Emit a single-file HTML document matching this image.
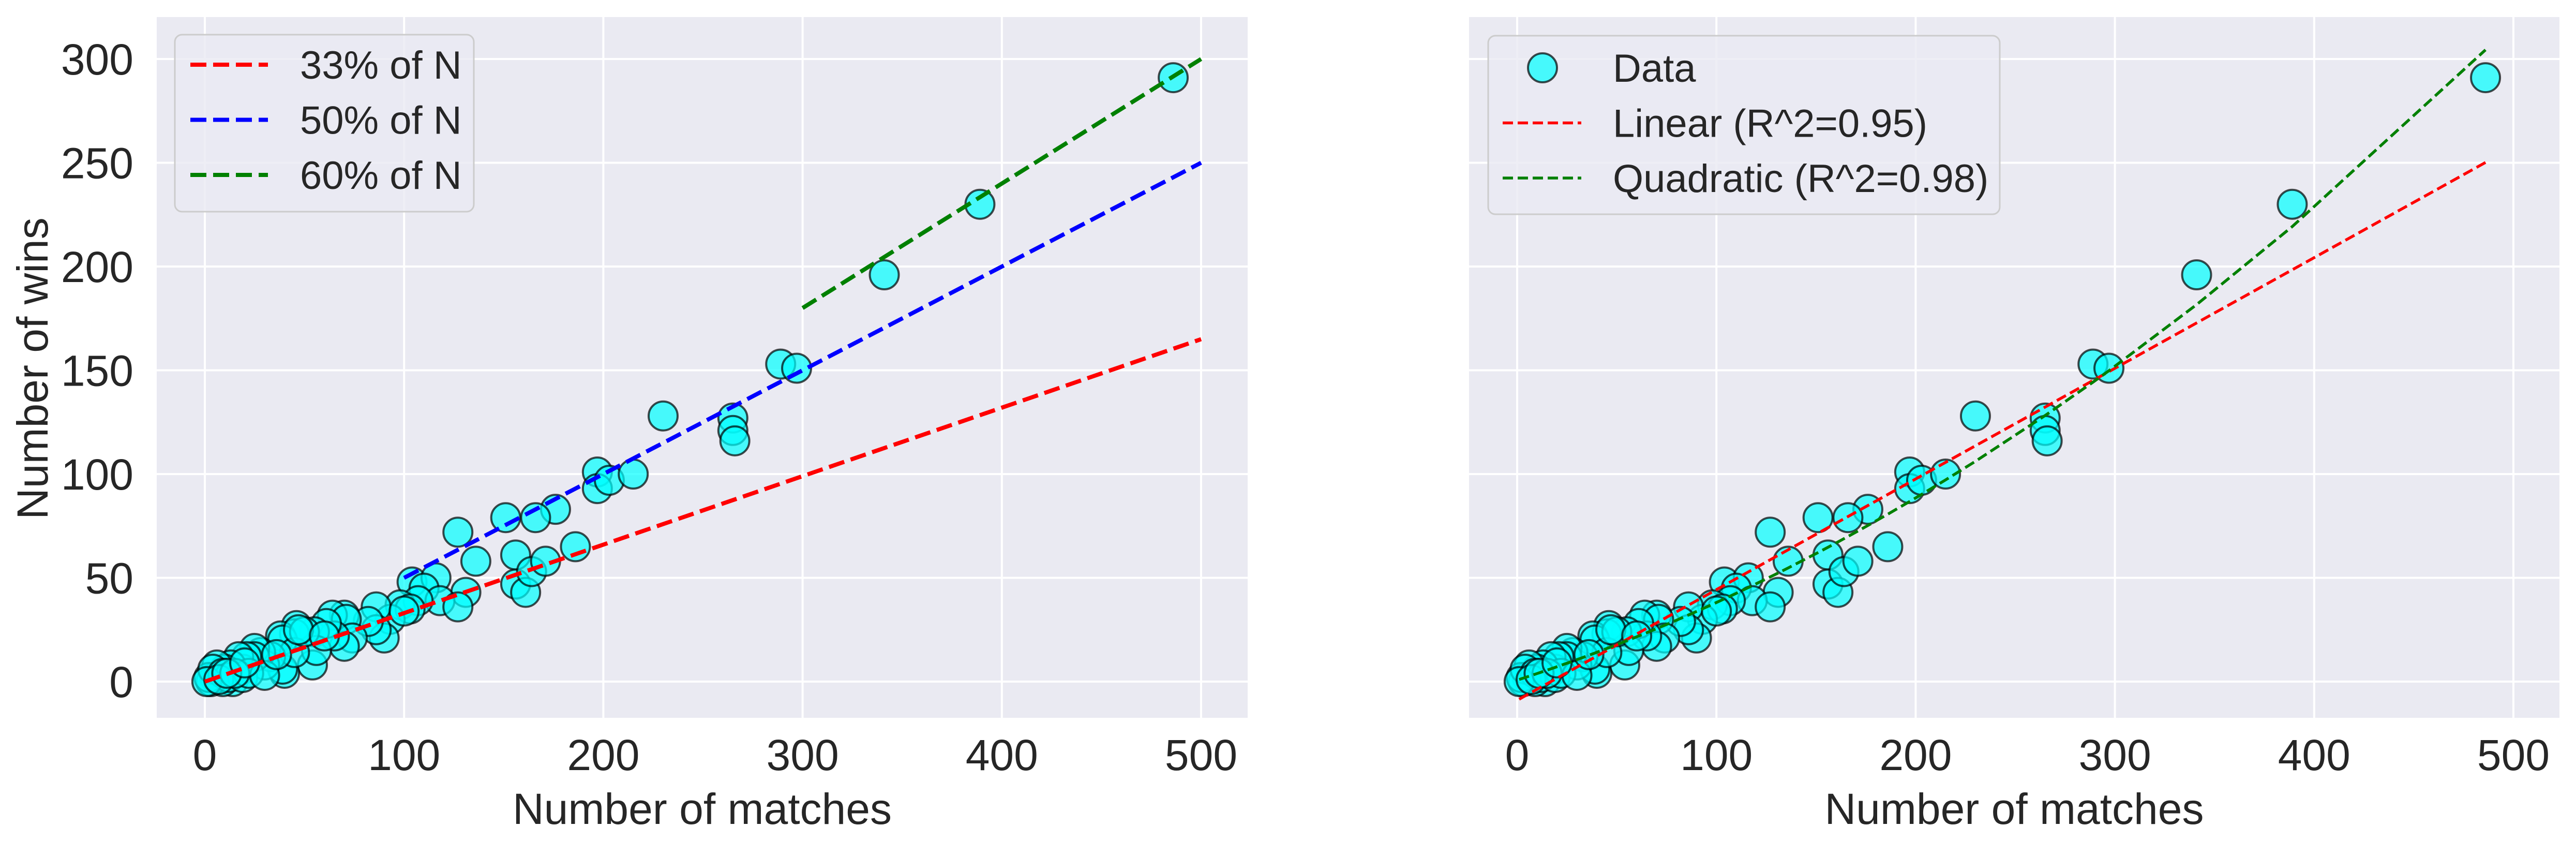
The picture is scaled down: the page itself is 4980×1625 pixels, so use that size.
<!DOCTYPE html>
<html><head><meta charset="utf-8">
<style>
html,body{margin:0;padding:0;background:#fff;}
svg{display:block;font-family:"Liberation Sans",Arial,sans-serif;}
</style></head>
<body>
<svg id="fig" width="4980" height="1625" viewBox="0 0 4980 1625" xmlns="http://www.w3.org/2000/svg"></svg>
<script>
// ---- data ----
const matches = [486,389,341,289,297,230,265,265,266,197,197,203,215,176,166,151,127,136,156,156,161,164,171,186,104,116,110,131,118,127,107,98,103,93,90,86,86,82,70,64,71,74,70,65,61,55,54,56,46,45,38,39,40,39,45,33,30,28,25,25,21,19,17,14,13,10,9,6,5,3,2,4,9,12,19,22,30,1,7,15,11,20,36,50,47,60,100];
const wins    = [291,230,196,153,151,128,127,121,116,101,93,97,100,83,79,79,72,58,61,47,43,53,58,65,48,50,45,43,39,36,39,37,35,30,21,36,25,29,32,32,30,21,17,22,28,24,8,15,27,23,22,20,4,6,14,12,8,14,16,12,12,6,12,0,8,6,0,8,2,0,2,6,4,2,2,4,3,0,1,4,4,9,13,24,25,22,34];
const xTicks = [0,100,200,300,400,500];
const yTicks = [0,50,100,150,200,250,300];
const refFractions = [0.33,0.5,0.6];
const refStarts = [0,100,300];
const refLabels = ["33% of N","50% of N","60% of N"];
const refColors = ["#ff0000","#0000ff","#008000"];
const fitLabels = ["Data","Linear (R^2=0.95)","Quadratic (R^2=0.98)"];

const NS="http://www.w3.org/2000/svg";
const svg=document.getElementById('fig');
function mk(tag,attrs,parent){const e=document.createElementNS(NS,tag);for(const k in attrs)e.setAttribute(k,attrs[k]);(parent||svg).appendChild(e);return e;}

const Y0=1317, YS=4.01, AX_TOP=33, AX_BOT=1387;
const yScale=v=>Y0-v*YS;
const panels=[{left:303,right:2412,x0:396},{left:2840,right:4948,x0:2933}];
const XS=3.852;

function solve(A,b){const n=b.length;const M=A.map((r,i)=>r.concat([b[i]]));
 for(let i=0;i<n;i++){let p=i;for(let r=i+1;r<n;r++)if(Math.abs(M[r][i])>Math.abs(M[p][i]))p=r;[M[i],M[p]]=[M[p],M[i]];
  for(let r=0;r<n;r++){if(r===i)continue;const f=M[r][i]/M[i][i];for(let c=i;c<=n;c++)M[r][c]-=f*M[i][c];}}
 return M.map((r,i)=>r[n]/r[i]);}
function polyfit(deg){const n=deg+1;const A=[],b=[];for(let i=0;i<n;i++){A.push([]);for(let j=0;j<n;j++){let s=0;for(let k=0;k<matches.length;k++)s+=Math.pow(matches[k],i+j);A[i].push(s);}let s=0;for(let k=0;k<matches.length;k++)s+=wins[k]*Math.pow(matches[k],i);b.push(s);}return solve(A,b);}
const linC=polyfit(1), quadC=polyfit(2);
const sortedX=[...new Set(matches)].sort((a,b)=>a-b);

panels.forEach((p,pi)=>{
  const xs=v=>p.x0+v*XS;
  const g=mk('g',{});
  
  
  const bg=mk('rect',{x:p.left,y:AX_TOP,width:p.right-p.left,height:AX_BOT-AX_TOP,fill:'#eaeaf2'},g);
  
  
  xTicks.forEach(t=>{
    const l=mk('line',{x1:xs(t),x2:xs(t),y1:AX_TOP,y2:AX_BOT,stroke:'#fff','stroke-width':4},g);
    
    
    const tx=mk('text',{x:xs(t),y:1488,'font-size':84,fill:'#262626','text-anchor':'middle'},g);
    tx.textContent=t;
    
    
  });
  yTicks.forEach(t=>{
    const l=mk('line',{x1:p.left,x2:p.right,y1:yScale(t),y2:yScale(t),stroke:'#fff','stroke-width':4},g);
    
    
    if(pi===0){
      const tx=mk('text',{x:258,y:yScale(t)+30,'font-size':84,fill:'#262626','text-anchor':'end'},g);
      tx.textContent=t;
      
      
    }
  });
  const xl=mk('text',{x:(p.left+p.right)/2,y:1592,'font-size':84,fill:'#262626','text-anchor':'middle'},g);
  xl.textContent='Number of matches';
  
  

  const sg=mk('g',{},g);
  
  
  matches.forEach((m,i)=>{
    const c=mk('circle',{cx:xs(m),cy:yScale(wins[i]),r:28,fill:'rgba(0,255,255,0.7)',stroke:'rgba(0,0,0,0.7)','stroke-width':4},sg);
    
    
  });

  if(pi===0){
    refFractions.forEach((f,i)=>{
      const l=mk('line',{x1:xs(refStarts[i]),y1:yScale(refStarts[i]*f),x2:xs(500),y2:yScale(500*f),stroke:refColors[i],'stroke-width':8,'stroke-dasharray':'31 13'},g);
      
      
    });
  } else {
    const ptsL=sortedX.map(x=>xs(x)+','+yScale(linC[0]+linC[1]*x)).join(' ');
    const ptsQ=sortedX.map(x=>xs(x)+','+yScale(quadC[0]+quadC[1]*x+quadC[2]*x*x)).join(' ');
    const lq=mk('polyline',{points:ptsL,fill:'none',stroke:'#ff0000','stroke-width':5.5,'stroke-dasharray':'20 9'},g);
    
    
    const qq=mk('polyline',{points:ptsQ,fill:'none',stroke:'#008000','stroke-width':5.5,'stroke-dasharray':'20 9'},g);
    
    
  }
});

const yl=mk('text',{x:0,y:0,'font-size':84,fill:'#262626','text-anchor':'middle',transform:'translate(92,712) rotate(-90)'});
yl.textContent='Number of wins';



const lg=mk('g',{});


mk('rect',{x:338,y:67,width:578,height:342,rx:14,fill:'rgba(234,234,242,0.8)',stroke:'#cccccc','stroke-width':3},lg);
refLabels.forEach((t,i)=>{
  const cy=125+i*106.5;
  const l=mk('line',{x1:368,x2:518,y1:cy,y2:cy,stroke:refColors[i],'stroke-width':8,'stroke-dasharray':'31 13'},lg);
  
  
  const tx=mk('text',{x:580,y:cy+27,'font-size':76,fill:'#262626'},lg);
  tx.textContent=t;
  
  
});

const rg=mk('g',{});


mk('rect',{x:2877,y:69,width:989,height:345,rx:14,fill:'rgba(234,234,242,0.8)',stroke:'#cccccc','stroke-width':3},rg);
const rc=mk('circle',{cx:2982,cy:131,r:28,fill:'rgba(0,255,255,0.7)',stroke:'rgba(0,0,0,0.7)','stroke-width':4},rg);


const fitColors=[null,'#ff0000','#008000'];
fitLabels.forEach((t,i)=>{
  const cy=131+i*106.5;
  if(i>0){
    const l=mk('line',{x1:2905,x2:3057,y1:cy,y2:cy,stroke:fitColors[i],'stroke-width':5.5,'stroke-dasharray':'20 9'},rg);
    
    
  }
  const tx=mk('text',{x:3118,y:cy+27,'font-size':76,fill:'#262626'},rg);
  tx.textContent=t;
  
  
});
</script>
</body></html>
